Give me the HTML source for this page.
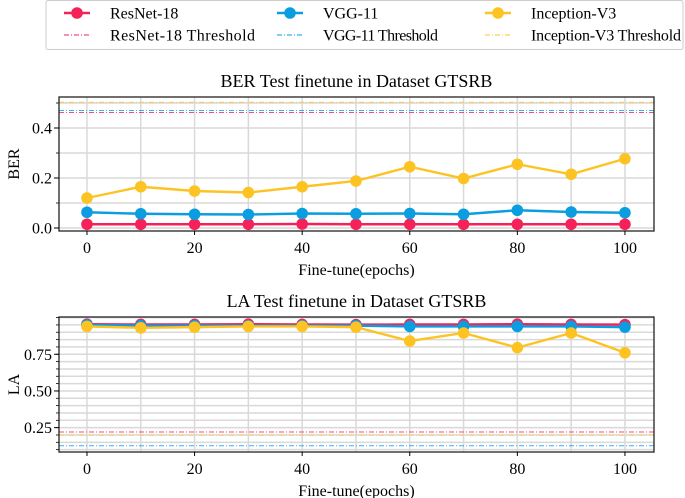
<!DOCTYPE html>
<html><head><meta charset="utf-8"><style>
body{margin:0;background:#fff;}
svg{display:block;font-family:"Liberation Serif",serif;}
</style></head><body>
<svg id="chart" width="685" height="498"></svg>
<script>
const epochs=[0,10,20,30,40,50,60,70,80,90,100];
const berResNet=[0.015,0.015,0.015,0.015,0.016,0.015,0.015,0.015,0.015,0.015,0.015];
const berVGG=[0.063,0.057,0.055,0.054,0.058,0.057,0.058,0.055,0.071,0.064,0.061];
const berInception=[0.12,0.165,0.148,0.142,0.165,0.188,0.245,0.198,0.255,0.215,0.277];
const berThresholds=[0.462,0.47,0.503];
const laResNet=[0.955,0.953,0.953,0.955,0.953,0.952,0.953,0.953,0.955,0.953,0.952];
const laVGG=[0.95,0.945,0.945,0.945,0.945,0.945,0.94,0.94,0.94,0.94,0.935];
const laInception=[0.94,0.93,0.935,0.94,0.94,0.935,0.84,0.895,0.795,0.895,0.76];
const laThresholds=[0.22,0.127,0.20];
const xTicks=[0,20,40,60,80,100];
const berTicks=[0.0,0.2,0.4];
const laTicks=[0.25,0.50,0.75];
const colors=['#f5225a','#0a9ee0','#fdc323'];
const names=['ResNet-18','VGG-11','Inception-V3'];
const NS='http://www.w3.org/2000/svg';
const svg=document.getElementById('chart');
function el(tag,attrs,parent){const e=document.createElementNS(NS,tag);for(const k in attrs)e.setAttribute(k,attrs[k]);(parent||svg).appendChild(e);return e;}
function txt(s,attrs,parent){const t=el('text',attrs,parent);t.textContent=s;return t;}

function panel(o){
  const g=el('g',{});
  
  
  const L=59,R=654,T=o.top,B=o.bottom;
  const xs=v=>L+(v-(-5.2))/(105.4-(-5.2))*(R-L);
  const ys=v=>B-(v-o.ymin)/(o.ymax-o.ymin)*(B-T);
  for(let v=o.minorStart;v<=o.ymax+1e-9;v+=o.minorStep){const y=ys(v);if(y<T||y>B)continue;
    const l=el('line',{x1:L,x2:R,y1:y,y2:y,stroke:'#d9d9d9','stroke-width':1.5},g);
    
    el('line',{x1:L-3,x2:L,y1:y,y2:y,stroke:'#000','stroke-width':0.8},g);}
  for(let v=0;v<=100;v+=10){const x=xs(v);
    const l=el('line',{x1:x,x2:x,y1:T,y2:B,stroke:'#d9d9d9','stroke-width':1.5},g);
    }
  o.thr.forEach((v,i)=>{const y=ys(v);
    const l=el('line',{x1:L,x2:R,y1:y,y2:y,stroke:colors[i],'stroke-width':1,'stroke-dasharray':'5,2,1,2',opacity:0.8},g);
    });
  o.series.forEach((arr,i)=>{
    const pts=epochs.map((e,j)=>xs(e)+','+ys(arr[j])).join(' ');
    const pl=el('polyline',{points:pts,fill:'none',stroke:colors[i],'stroke-width':2.4},g);
    
    epochs.forEach((e,j)=>{const c=el('circle',{cx:xs(e),cy:ys(arr[j]),r:5.8,fill:colors[i]},g);
      });
  });
  el('rect',{x:L,y:T,width:R-L,height:B-T,fill:'none',stroke:'#222','stroke-width':1.3},g);
  o.ticks.forEach(v=>{const y=ys(v);
    el('line',{x1:L-5,x2:L,y1:y,y2:y,stroke:'#000','stroke-width':1},g);
    const t=txt(o.fmt(v),{x:L-7,y:y+5.5,'text-anchor':'end','font-size':16},g);
    });
  xTicks.forEach(v=>{const x=xs(v);
    el('line',{x1:x,x2:x,y1:B,y2:B+4,stroke:'#000','stroke-width':1},g);
    const t=txt(String(v),{x:x,y:B+22,'text-anchor':'middle','font-size':16},g);
    });
  const xt=txt('Fine-tune(epochs)',{x:(L+R)/2,y:B+44,'text-anchor':'middle','font-size':16},g);
  
  const yt=txt(o.ylabel,{x:0,y:0,'text-anchor':'middle','font-size':16,transform:`translate(19,${(T+B)/2}) rotate(-90)`},g);
  
  const ti=txt(o.title,{x:(L+R)/2,y:T-10,'text-anchor':'middle','font-size':18},g);
  
}
panel({key:'ber',top:97,bottom:231,ymin:-0.012,ymax:0.524,minorStart:0,minorStep:0.1,thr:berThresholds,
  series:[berResNet,berVGG,berInception],ticks:berTicks,fmt:v=>v.toFixed(1),ylabel:'BER',title:'BER Test finetune in Dataset GTSRB'});
panel({key:'la',top:317,bottom:452,ymin:0.084,ymax:1.004,minorStart:0.1,minorStep:0.05,thr:laThresholds,
  series:[laResNet,laVGG,laInception],ticks:laTicks,fmt:v=>v.toFixed(2),ylabel:'LA',title:'LA Test finetune in Dataset GTSRB'});

const lg=el('g',{});


el('rect',{x:46,y:0.5,width:637,height:49,fill:'#fff',stroke:'#ccc','stroke-width':1,rx:2},lg);
const lx=[64,277,485];
names.forEach((n,i)=>{
  const e=el('g',{},lg);
  
  
  el('line',{x1:lx[i],x2:lx[i]+26,y1:13,y2:13,stroke:colors[i],'stroke-width':2.4},e);
  el('circle',{cx:lx[i]+13,cy:13,r:5.8,fill:colors[i]},e);
  txt(n,{x:lx[i]+46,y:18.5,'font-size':16},e);
  const e2=el('g',{},lg);
  
  
  el('line',{x1:lx[i],x2:lx[i]+26,y1:35,y2:35,stroke:colors[i],'stroke-width':1,'stroke-dasharray':'5,2,1,2'},e2);
  txt(n+' Threshold',{x:lx[i]+46,y:40.5,'font-size':16,textLength:n.length>10?150:(n.length>7?145:115)},e2);
});
</script>
</body></html>
